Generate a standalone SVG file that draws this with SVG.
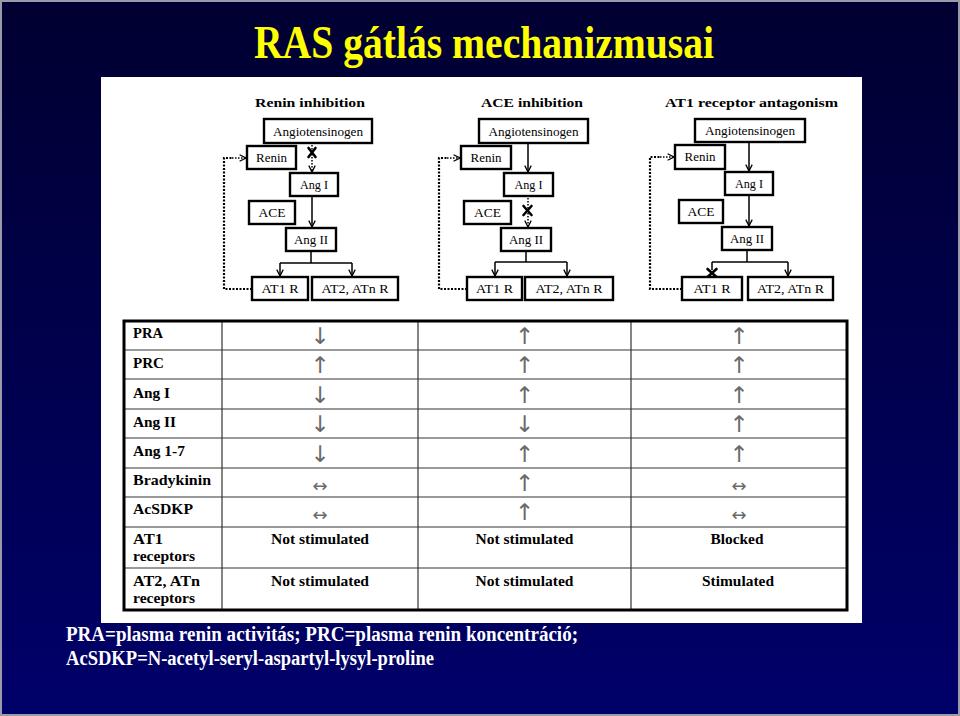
<svg xmlns="http://www.w3.org/2000/svg" width="960" height="716" viewBox="0 0 960 716">
<defs>
<linearGradient id="bg" x1="0" y1="0" x2="0" y2="1">
<stop offset="0" stop-color="#000030"/>
<stop offset="1" stop-color="#00006a"/>
</linearGradient>
<marker id="ah" viewBox="0 0 10 10" refX="9" refY="5" markerWidth="8" markerHeight="8" markerUnits="userSpaceOnUse" orient="auto">
<path d="M1,1 L9,5 L1,9" fill="none" stroke="#000" stroke-width="1.6"/>
</marker>
<style>
.box{fill:#fff;stroke:#000;stroke-width:2.4}
.bt{font-family:"Liberation Serif","Times New Roman",serif;font-size:12.5px;fill:#000;text-anchor:middle}
.pt{font-family:"Liberation Serif","Times New Roman",serif;font-size:13px;font-weight:bold;fill:#000;text-anchor:middle}
.sl{fill:none;stroke:#000;stroke-width:1.5}
.dl{fill:none;stroke:#000;stroke-width:2.2;stroke-dasharray:2 1.5}
.dt{fill:none;stroke:#000;stroke-width:1.5;stroke-dasharray:1.5 1.5}
.xm{stroke:#000;stroke-width:2.6;stroke-linecap:round}
.tl{font-family:"Liberation Serif","Times New Roman",serif;font-size:14.5px;font-weight:bold;fill:#000}
.tc{font-family:"Liberation Serif","Times New Roman",serif;font-size:14.5px;font-weight:bold;fill:#000;text-anchor:middle}
.ar{font-family:"DejaVu Sans",sans-serif;font-size:23px;fill:#6a6a6a;text-anchor:middle}
.ah2{font-family:"DejaVu Sans",sans-serif;font-size:18px;fill:#6a6a6a;text-anchor:middle}
.rl{stroke:#777;stroke-width:1.4}
.cl{stroke:#333;stroke-width:1.2}
.foot{font-family:"Liberation Serif","Times New Roman",serif;font-size:20px;font-weight:bold;fill:#fff}
</style>
</defs>
<rect x="0" y="0" width="960" height="716" fill="url(#bg)"/>
<rect x="1" y="1" width="958" height="714" fill="none" stroke="#9a9aaa" stroke-width="2"/>
<text x="484" y="58" font-family="'Liberation Serif','Times New Roman',serif" font-size="46" font-weight="bold" fill="#ffff00" text-anchor="middle" textLength="460" lengthAdjust="spacingAndGlyphs">RAS gátlás mechanizmusai</text>
<rect x="101" y="77" width="761" height="546" fill="#fff"/>

<g id="panel-titles">
<text class="pt" x="310" y="107" textLength="110" lengthAdjust="spacingAndGlyphs">Renin inhibition</text>
<text class="pt" x="532" y="107" textLength="102" lengthAdjust="spacingAndGlyphs">ACE inhibition</text>
<text class="pt" x="751.5" y="107" textLength="173" lengthAdjust="spacingAndGlyphs">AT1 receptor antagonism</text>
</g>

<g id="connectors">
<line class="dt" x1="312" y1="145" x2="312" y2="172" marker-end="url(#ah)"/>
<line class="sl" x1="312" y1="196" x2="312" y2="227" marker-end="url(#ah)"/>
<polyline class="sl" points="311,251 311,263"/>
<line class="sl" x1="280" y1="263" x2="352" y2="263"/>
<line class="sl" x1="280" y1="263" x2="280" y2="276" marker-end="url(#ah)"/>
<line class="sl" x1="352" y1="263" x2="352" y2="276" marker-end="url(#ah)"/>
<polyline class="dl" points="252,289 224,289 224,158 232,158"/>
<line class="dt" x1="232" y1="158" x2="246" y2="158" marker-end="url(#ah)"/>
<line class="sl" x1="528" y1="143" x2="528" y2="172" marker-end="url(#ah)"/>
<line class="dt" x1="528" y1="198" x2="528" y2="227" marker-end="url(#ah)"/>
<polyline class="sl" points="526,251 526,262"/>
<line class="sl" x1="495" y1="262" x2="567" y2="262"/>
<line class="sl" x1="495" y1="262" x2="495" y2="276" marker-end="url(#ah)"/>
<line class="sl" x1="567" y1="262" x2="567" y2="276" marker-end="url(#ah)"/>
<polyline class="dl" points="467,289 439,289 439,158 447,158"/>
<line class="dt" x1="447" y1="158" x2="460" y2="158" marker-end="url(#ah)"/>
<line class="sl" x1="749" y1="142" x2="749" y2="171" marker-end="url(#ah)"/>
<line class="sl" x1="749" y1="195" x2="749" y2="226" marker-end="url(#ah)"/>
<polyline class="sl" points="747,250 747,262"/>
<line class="sl" x1="712" y1="262" x2="788" y2="262"/>
<line class="sl" x1="712" y1="262" x2="712" y2="270"/>
<line class="sl" x1="788" y1="262" x2="788" y2="276" marker-end="url(#ah)"/>
<polyline class="dl" points="682,289 650,289 650,157 660,157"/>
<line class="dt" x1="660" y1="157" x2="674" y2="157" marker-end="url(#ah)"/>
</g>

<g id="block-marks">
<g id="x1"><line class="xm" x1="308.5" y1="148" x2="315.5" y2="157"/><line class="xm" x1="315.5" y1="148" x2="308.5" y2="157"/></g>
<g id="x2"><line class="xm" x1="523.5" y1="206" x2="531.5" y2="215"/><line class="xm" x1="531.5" y1="206" x2="523.5" y2="215"/></g>
<g id="x3"><line class="xm" x1="707.5" y1="269" x2="716.5" y2="277"/><line class="xm" x1="716.5" y1="269" x2="707.5" y2="277"/></g>
</g>

<g id="p1-angiotensinogen"><rect class="box" x="264" y="119" width="108" height="24"/><text class="bt" x="318" y="136" textLength="90" lengthAdjust="spacingAndGlyphs">Angiotensinogen</text></g>
<g id="p1-renin"><rect class="box" x="247" y="146" width="49" height="23"/><text class="bt" x="271.5" y="162" textLength="31" lengthAdjust="spacingAndGlyphs">Renin</text></g>
<g id="p1-ang1"><rect class="box" x="290" y="173" width="48" height="23"/><text class="bt" x="314" y="189" textLength="28" lengthAdjust="spacingAndGlyphs">Ang I</text></g>
<g id="p1-ace"><rect class="box" x="249" y="201" width="46" height="23"/><text class="bt" x="272" y="217" textLength="27" lengthAdjust="spacingAndGlyphs">ACE</text></g>
<g id="p1-ang2"><rect class="box" x="286" y="228" width="50" height="23"/><text class="bt" x="311" y="244" textLength="34" lengthAdjust="spacingAndGlyphs">Ang II</text></g>
<g id="p1-at1r"><rect class="box" x="252" y="277" width="56" height="23"/><text class="bt" x="280" y="293" textLength="37" lengthAdjust="spacingAndGlyphs">AT1 R</text></g>
<g id="p1-at2r"><rect class="box" x="312" y="277" width="86" height="23"/><text class="bt" x="355" y="293" textLength="67" lengthAdjust="spacingAndGlyphs">AT2, ATn R</text></g>

<g id="p2-angiotensinogen"><rect class="box" x="479" y="119" width="109" height="24"/><text class="bt" x="533.5" y="136" textLength="90" lengthAdjust="spacingAndGlyphs">Angiotensinogen</text></g>
<g id="p2-renin"><rect class="box" x="461" y="146" width="50" height="23"/><text class="bt" x="486" y="162" textLength="31" lengthAdjust="spacingAndGlyphs">Renin</text></g>
<g id="p2-ang1"><rect class="box" x="504" y="173" width="49" height="23"/><text class="bt" x="528.5" y="189" textLength="28" lengthAdjust="spacingAndGlyphs">Ang I</text></g>
<g id="p2-ace"><rect class="box" x="464" y="201" width="47" height="23"/><text class="bt" x="487.5" y="217" textLength="27" lengthAdjust="spacingAndGlyphs">ACE</text></g>
<g id="p2-ang2"><rect class="box" x="501" y="228" width="50" height="23"/><text class="bt" x="526" y="244" textLength="34" lengthAdjust="spacingAndGlyphs">Ang II</text></g>
<g id="p2-at1r"><rect class="box" x="467" y="277" width="55" height="23"/><text class="bt" x="494.5" y="293" textLength="37" lengthAdjust="spacingAndGlyphs">AT1 R</text></g>
<g id="p2-at2r"><rect class="box" x="525" y="277" width="88" height="23"/><text class="bt" x="569" y="293" textLength="67" lengthAdjust="spacingAndGlyphs">AT2, ATn R</text></g>

<g id="p3-angiotensinogen"><rect class="box" x="695" y="119" width="110" height="23"/><text class="bt" x="750" y="135" textLength="90" lengthAdjust="spacingAndGlyphs">Angiotensinogen</text></g>
<g id="p3-renin"><rect class="box" x="675" y="145" width="50" height="24"/><text class="bt" x="700" y="161" textLength="31" lengthAdjust="spacingAndGlyphs">Renin</text></g>
<g id="p3-ang1"><rect class="box" x="725" y="172" width="48" height="23"/><text class="bt" x="749" y="188" textLength="28" lengthAdjust="spacingAndGlyphs">Ang I</text></g>
<g id="p3-ace"><rect class="box" x="679" y="200" width="44" height="23"/><text class="bt" x="701" y="216" textLength="27" lengthAdjust="spacingAndGlyphs">ACE</text></g>
<g id="p3-ang2"><rect class="box" x="722" y="227" width="50" height="23"/><text class="bt" x="747" y="243" textLength="34" lengthAdjust="spacingAndGlyphs">Ang II</text></g>
<g id="p3-at1r"><rect class="box" x="682" y="277" width="60" height="23"/><text class="bt" x="712" y="293" textLength="37" lengthAdjust="spacingAndGlyphs">AT1 R</text></g>
<g id="p3-at2r"><rect class="box" x="748" y="277" width="85" height="23"/><text class="bt" x="790.5" y="293" textLength="67" lengthAdjust="spacingAndGlyphs">AT2, ATn R</text></g>

<g id="table">
<rect x="124" y="321" width="723" height="289" fill="#fff" stroke="none"/>
<g id="table-rules">
<line class="rl" x1="124" y1="350" x2="847" y2="350"/>
<line class="rl" x1="124" y1="379" x2="847" y2="379"/>
<line class="rl" x1="124" y1="409" x2="847" y2="409"/>
<line class="rl" x1="124" y1="438" x2="847" y2="438"/>
<line class="rl" x1="124" y1="468" x2="847" y2="468"/>
<line class="rl" x1="124" y1="497" x2="847" y2="497"/>
<line class="rl" x1="124" y1="527" x2="847" y2="527"/>
<line class="rl" x1="124" y1="568" x2="847" y2="568"/>
<line class="cl" x1="222" y1="321" x2="222" y2="610"/>
<line class="cl" x1="418" y1="321" x2="418" y2="610"/>
<line class="cl" x1="631" y1="321" x2="631" y2="610"/>
<rect x="124" y="321" width="723" height="289" fill="none" stroke="#000" stroke-width="3"/>
</g>
<g id="row-labels">
<text class="tl" x="133" y="338" textLength="30" lengthAdjust="spacingAndGlyphs">PRA</text>
<text class="tl" x="133" y="368" textLength="31" lengthAdjust="spacingAndGlyphs">PRC</text>
<text class="tl" x="133" y="398" textLength="37" lengthAdjust="spacingAndGlyphs">Ang I</text>
<text class="tl" x="133" y="427" textLength="43" lengthAdjust="spacingAndGlyphs">Ang II</text>
<text class="tl" x="133" y="456" textLength="52" lengthAdjust="spacingAndGlyphs">Ang 1-7</text>
<text class="tl" x="133" y="485" textLength="78" lengthAdjust="spacingAndGlyphs">Bradykinin</text>
<text class="tl" x="133" y="514" textLength="60" lengthAdjust="spacingAndGlyphs">AcSDKP</text>
<text class="tl" x="133" y="544" textLength="30" lengthAdjust="spacingAndGlyphs">AT1</text>
<text class="tl" x="133" y="561" textLength="62" lengthAdjust="spacingAndGlyphs">receptors</text>
<text class="tl" x="133" y="586" textLength="67" lengthAdjust="spacingAndGlyphs">AT2, ATn</text>
<text class="tl" x="133" y="603" textLength="62" lengthAdjust="spacingAndGlyphs">receptors</text>
</g>
<g id="cells">
<text class="ar" x="320" y="344">↓</text><text class="ar" x="524.5" y="344">↑</text><text class="ar" x="739" y="344">↑</text>
<text class="ar" x="320" y="373">↑</text><text class="ar" x="524.5" y="373">↑</text><text class="ar" x="739" y="373">↑</text>
<text class="ar" x="320" y="402.5">↓</text><text class="ar" x="524.5" y="402.5">↑</text><text class="ar" x="739" y="402.5">↑</text>
<text class="ar" x="320" y="432">↓</text><text class="ar" x="524.5" y="432">↓</text><text class="ar" x="739" y="432">↑</text>
<text class="ar" x="320" y="461.5">↓</text><text class="ar" x="524.5" y="461.5">↑</text><text class="ar" x="739" y="461.5">↑</text>
<text class="ah2" x="320" y="492">↔</text><text class="ar" x="524.5" y="491">↑</text><text class="ah2" x="739" y="492">↔</text>
<text class="ah2" x="320" y="521">↔</text><text class="ar" x="524.5" y="519.5">↑</text><text class="ah2" x="739" y="521">↔</text>
<text class="tc" x="320" y="544" textLength="98" lengthAdjust="spacingAndGlyphs">Not stimulated</text>
<text class="tc" x="524.5" y="544" textLength="98" lengthAdjust="spacingAndGlyphs">Not stimulated</text>
<text class="tc" x="737" y="544" textLength="53" lengthAdjust="spacingAndGlyphs">Blocked</text>
<text class="tc" x="320" y="586" textLength="98" lengthAdjust="spacingAndGlyphs">Not stimulated</text>
<text class="tc" x="524.5" y="586" textLength="98" lengthAdjust="spacingAndGlyphs">Not stimulated</text>
<text class="tc" x="738" y="586" textLength="72" lengthAdjust="spacingAndGlyphs">Stimulated</text>
</g>
</g>

<g id="footnote">
<text class="foot" x="66" y="641" textLength="512" lengthAdjust="spacingAndGlyphs">PRA=plasma renin activitás; PRC=plasma renin koncentráció;</text>
<text class="foot" x="66" y="665" textLength="368" lengthAdjust="spacingAndGlyphs">AcSDKP=N-acetyl-seryl-aspartyl-lysyl-proline</text>
</g>
</svg>
